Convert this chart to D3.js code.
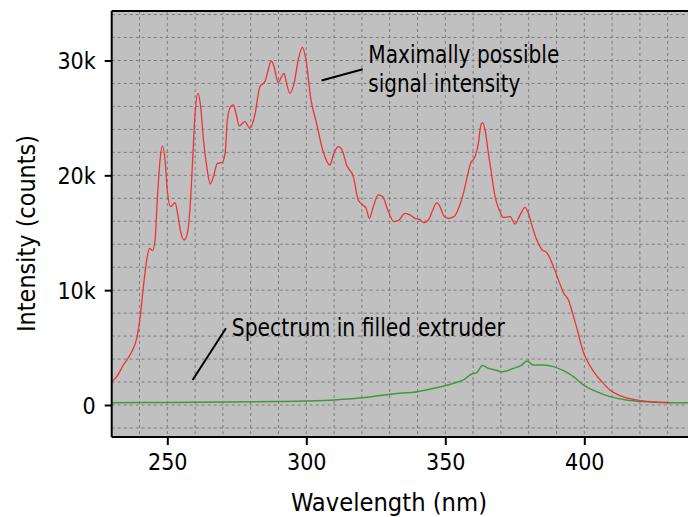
<!DOCTYPE html>
<html>
<head>
<meta charset="utf-8">
<script src="https://cdn.jsdelivr.net/npm/d3@7"></script>
<style>
    body { margin: 0; background: white; }
    text { font-family: Tahoma, "DejaVu Sans Condensed", "DejaVu Sans", sans-serif; fill: black; }
</style>
</head>
<body>
<svg></svg>
<script>
// wavelengths (nm) and intensities (counts)
var redNm = [230, 231.8, 234.2, 237.2, 239, 240.4, 241.4, 242.6, 243.6, 244.7, 245.6, 246.4, 247.4, 248.2, 249.2, 250,
    251.2, 252.8, 253.7, 254.8, 256, 257.2, 258.2, 259, 260, 261, 262, 263, 264.2, 265.4, 266.6, 268, 269.6, 270.8,
    271.6, 272.8, 273.7, 274.7, 275.9, 277.9, 279.7, 281.5, 283.3, 285.1, 286.3, 287.3, 288.4, 289.9, 291.1, 292,
    292.9, 294.1, 295.6, 297.1, 298.6, 299.9, 301.6, 303.7, 305.9, 308.5, 309.7, 311.5, 313.1, 314.5, 316.9, 318.7,
    320.3, 321.5, 322.7, 324.1, 325.9, 327.5, 328.9, 331.5, 333.1, 335.5, 337.3, 339.1, 340.7, 342.3, 343.9, 345.5,
    346.9, 348.1, 349.5, 351.1, 353.1, 355, 356.5, 357.9, 359.1, 360.7, 361.9, 362.8, 363.4, 364.3, 365.5, 366.4,
    367.9, 369.4, 370.9, 373.3, 375.1, 376.9, 378.7, 379.9, 381.1, 382.9, 384.7, 386.7, 388.9, 390.7, 392.5, 394.3,
    395.8, 397.5, 399.4, 401.5, 403.8, 406.3, 409.2, 412.8, 417.6, 423.6, 430.8];
var redCounts = [2030, 2470, 3480, 4640, 5800, 7980, 10300, 12630, 13640, 13440, 14370, 17850, 21340, 22560, 21340, 18720,
    17270, 17620, 16690, 15100, 14370, 14950, 17270, 20760, 25400, 27140, 25980, 23080, 20760, 19250, 19890, 21050, 21100, 21920,
    24820, 25980, 26130, 25400, 24300, 24680, 24100, 25260, 27720, 28160, 29170, 29990, 29460, 28070, 28590, 28880,
    28010, 27140, 28010, 30050, 31150, 30050, 26700, 24530, 22210, 20900, 21770, 22500, 22060, 20900, 19890, 17850,
    17420, 17130, 16260, 17270, 18290, 18140, 17270, 15970, 16050, 16690, 16550, 16260, 16170, 15880, 16110, 16980,
    17620, 17270, 16460, 16260, 16400, 17270, 18430, 19890, 21050, 21630, 22790, 24390, 24590, 23950, 21920, 20500,
    18140, 16980, 16340, 16400, 15760, 16550, 17210, 16690, 15680, 14370, 13560, 13210, 12050, 10890, 9780, 9140,
    7980, 6530, 4790, 3630, 2760, 2030, 1310, 810, 490, 290, 200];

var greenNm = [230, 250, 270, 290, 300, 310, 322, 331, 340, 346, 353, 356.5, 359.5, 361.3, 363.4, 365.5, 368, 370.5,
    374.5, 377.5, 379.3, 381.7, 385.3, 388.9, 392.5, 396.1, 399.7, 404.4, 409.2, 415.2, 422.4, 430.8, 440];
var greenCounts = [200, 220, 260, 300, 350, 440, 670, 960, 1160, 1450, 1890, 2180, 2700, 2820, 3430, 3190, 3050, 2900,
    3190, 3480, 3830, 3480, 3480, 3340, 2990, 2470, 1740, 1160, 730, 440, 290, 200, 180];

var xTicks = [250, 300, 350, 400];
var yTicks = [0, 10000, 20000, 30000];
var yTickLabels = ["0", "10k", "20k", "30k"];

var screen = {width: 688, height: 517};
var plot = {left: 111.7, top: 11, bottom: 437};

var svg = d3.select("svg")
    .attr("width", screen.width)
    .attr("height", screen.height);

var xScale = d3.scaleLinear()
    .domain([230, 440])
    .range([plot.left, plot.left + 210 * 2.78]);

var yScale = d3.scaleLinear()
    .domain([0, 30000])
    .range([405, 60.5]);

var right = xScale(440);

svg.append("rect")
    .attr("x", plot.left)
    .attr("y", plot.top)
    .attr("width", right - plot.left)
    .attr("height", plot.bottom - plot.top)
    .attr("fill", "#c0c0c0");

// dashed grid, every 10 nm and every 2k counts
var grid = svg.append("g")
    .attr("stroke", "#7c7c7c")
    .attr("stroke-width", 1)
    .attr("stroke-dasharray", "3,3");

grid.selectAll("line.v")
    .data(d3.range(240, 440, 10))
    .enter()
    .append("line")
    .attr("x1", function(d){return xScale(d)})
    .attr("x2", function(d){return xScale(d)})
    .attr("y1", plot.top)
    .attr("y2", plot.bottom);

grid.selectAll("line.h")
    .data(d3.range(-2000, 34001, 2000))
    .enter()
    .append("line")
    .attr("x1", plot.left)
    .attr("x2", right)
    .attr("y1", function(d){return yScale(d)})
    .attr("y2", function(d){return yScale(d)});

var lineGenerator = d3.line()
    .x(function(d){return xScale(d[0])})
    .y(function(d){return yScale(d[1])})
    .curve(d3.curveMonotoneX);

svg.append("path")
    .datum(d3.zip(greenNm, greenCounts))
    .attr("fill", "none")
    .attr("stroke", "#3e9a3e")
    .attr("stroke-width", 1.5)
    .attr("d", lineGenerator);

svg.append("path")
    .datum(d3.zip(redNm, redCounts))
    .attr("fill", "none")
    .attr("stroke", "#ec3434")
    .attr("stroke-width", 1.3)
    .attr("d", lineGenerator);

// frame top
svg.append("line")
    .attr("x1", plot.left)
    .attr("x2", right)
    .attr("y1", plot.top)
    .attr("y2", plot.top)
    .attr("stroke", "black")
    .attr("stroke-width", 2);

var xAxis = d3.axisBottom(xScale)
    .tickValues(xTicks)
    .tickSize(8)
    .tickSizeOuter(0);

var yAxis = d3.axisLeft(yScale)
    .tickValues(yTicks)
    .tickSize(7)
    .tickSizeOuter(0)
    .tickFormat(function(d, i){return yTickLabels[i]});

var gx = svg.append("g")
    .attr("transform", "translate(0," + plot.bottom + ")")
    .call(xAxis);
gx.select(".domain").attr("d", "M" + plot.left + ",0H" + right);

var gy = svg.append("g")
    .attr("transform", "translate(" + plot.left + ",0)")
    .call(yAxis);
gy.select(".domain").attr("d", "M0," + plot.top + "V" + plot.bottom);

svg.selectAll(".domain").attr("stroke", "black").attr("stroke-width", 2);
svg.selectAll(".tick line").attr("stroke", "black").attr("stroke-width", 2);

gx.selectAll(".tick text")
    .attr("y", 33)
    .attr("dy", null)
    .attr("font-size", 23)
    .attr("font-family", null);

gy.selectAll(".tick text")
    .attr("x", -16)
    .attr("dy", "0.36em")
    .attr("font-size", 23)
    .attr("font-family", null);

// axis titles
svg.append("text")
    .attr("x", 389)
    .attr("y", 511)
    .attr("text-anchor", "middle")
    .attr("font-size", 24)
    .attr("textLength", 196)
    .attr("lengthAdjust", "spacingAndGlyphs")
    .text("Wavelength (nm)");

svg.append("text")
    .attr("transform", "translate(34.5,233.5) rotate(-90)")
    .attr("text-anchor", "middle")
    .attr("font-size", 24)
    .attr("textLength", 197)
    .attr("lengthAdjust", "spacingAndGlyphs")
    .text("Intensity (counts)");

// annotations
svg.append("line")
    .attr("x1", xScale(305.5)).attr("y1", yScale(28260))
    .attr("x2", xScale(320.3)).attr("y2", yScale(29240))
    .attr("stroke", "black").attr("stroke-width", 2);

svg.append("text")
    .attr("x", xScale(322.3))
    .attr("y", yScale(29760))
    .attr("font-size", 24)
    .attr("textLength", 191)
    .attr("lengthAdjust", "spacingAndGlyphs")
    .text("Maximally possible");

svg.append("text")
    .attr("x", xScale(322.3))
    .attr("y", yScale(27300))
    .attr("font-size", 24)
    .attr("textLength", 152)
    .attr("lengthAdjust", "spacingAndGlyphs")
    .text("signal intensity");

svg.append("line")
    .attr("x1", xScale(259.1)).attr("y1", yScale(2180))
    .attr("x2", xScale(271.1)).attr("y2", yScale(6680))
    .attr("stroke", "black").attr("stroke-width", 2);

svg.append("text")
    .attr("x", xScale(273.2))
    .attr("y", yScale(6010))
    .attr("font-size", 24)
    .attr("textLength", 273)
    .attr("lengthAdjust", "spacingAndGlyphs")
    .text("Spectrum in filled extruder");
</script>
</body>
</html>
